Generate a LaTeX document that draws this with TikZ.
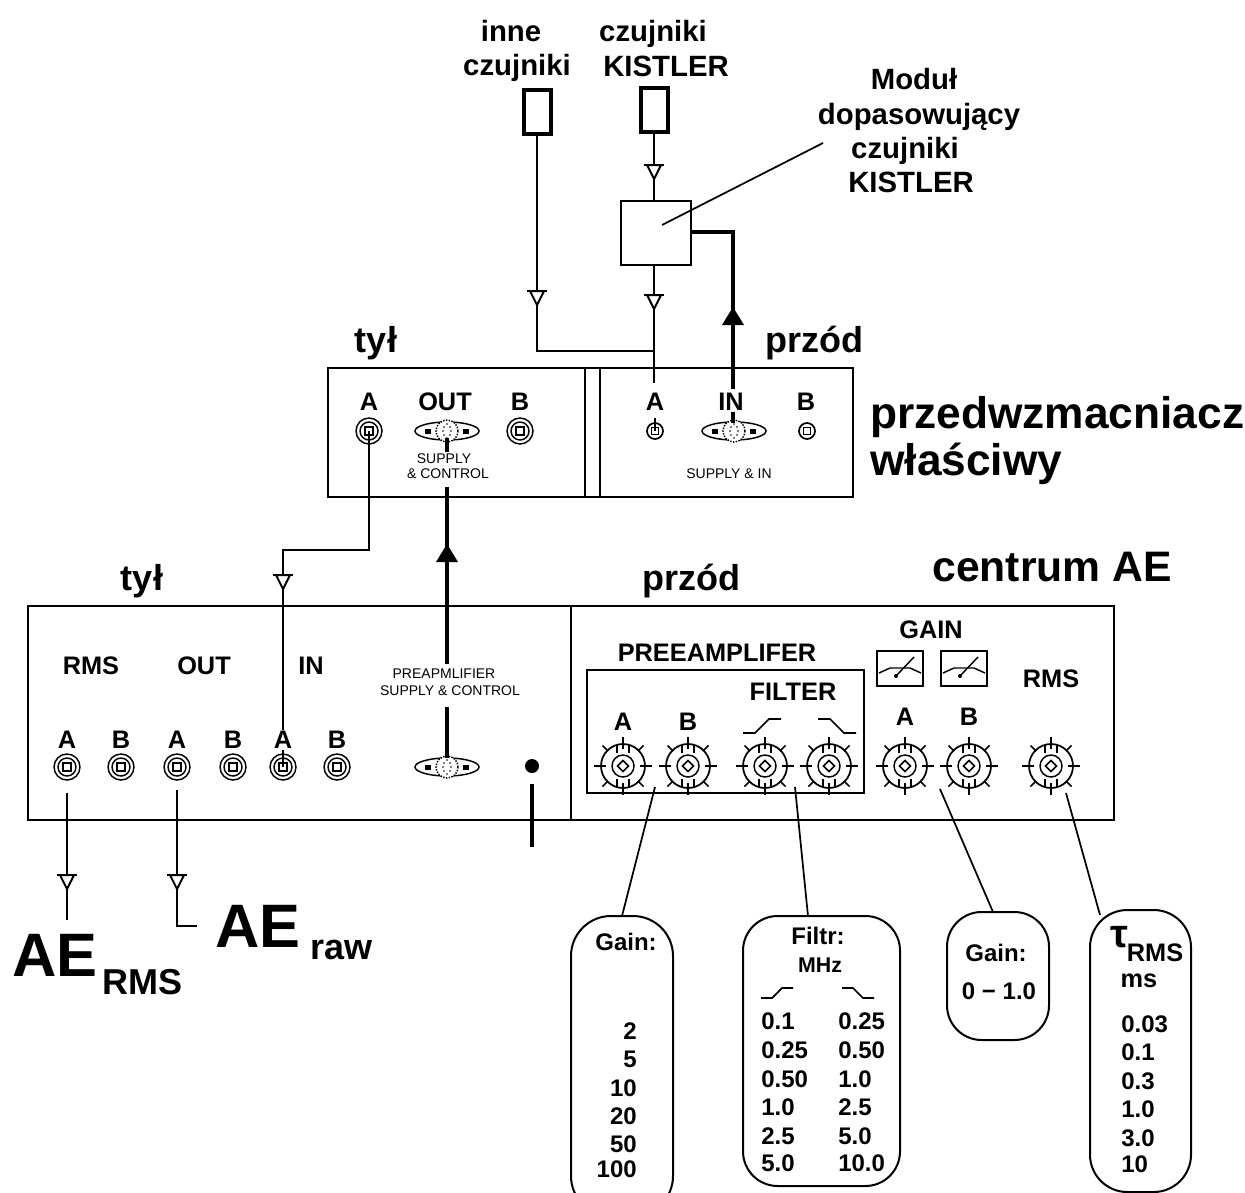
\documentclass[tikz,border=0pt]{standalone}
\usepackage{fontspec}
\setmainfont{Liberation Sans}
\newcommand\fsb[1]{\fontsize{#1}{#1}\selectfont\bfseries}
\newcommand\fsr[1]{\fontsize{#1}{#1}\selectfont}
\tikzset{
  wire/.style={line width=1.5pt},
  hwire/.style={line width=3.2pt},
  thin wire/.style={line width=1.3pt},
  frame/.style={draw,line width=1.5pt,inner sep=0pt,outer sep=0pt},
  lab/.style={inner sep=0pt,font=\fsb{19}},
  lbl/.style={inner sep=0pt,anchor=base,font=\fsb{22}},
  side/.style={inner sep=0pt,anchor=base,font=\fsb{27}},
  huge lab/.style={inner sep=0pt,anchor=base west,font=\fsb{33.2}},
  big/.style={inner sep=0pt,font=\fsb{46}},
  sub/.style={inner sep=0pt,font=\fsb{27}},
  small/.style={inner sep=0pt,font=\fsr{10.5}},
  val/.style={inner sep=0pt,font=\fsb{18}},
  balloon/.style={draw,line width=1.5pt,inner sep=0pt,outer sep=0pt},
  opentri/.pic={
    \draw[line width=1.5pt,fill=white] (-7,0) -- (0,14) -- (7,0) -- cycle;
    \draw[line width=1.8pt] (-10,0) -- (10,0);
  },
  filltri/.pic={\fill (0,-9) -- (11,9) -- (-11,9) -- cycle;},
  jackbig/.pic={
    \draw[line width=1.1pt,fill=white] (0,0) circle (13);
    \draw[line width=1.1pt] (0,0) circle (9);
    \draw[line width=1.5pt] (-4,-4) rectangle (4,4);
  },
  jacksmall/.pic={
    \draw[line width=1.3pt,fill=white] (0,0) circle (8);
    \draw[line width=1.3pt] (-3.5,-3.5) rectangle (3.5,3.5);
  },
  din/.pic={
    \draw[line width=1.1pt,fill=white] (0,0) ellipse (32 and 9);
    \draw[line width=1.1pt,fill=white,densely dotted] (0,0) circle (11);
    \fill (-22,-2.5) rectangle (-16,2.5);
    \fill (16,-2.5) rectangle (22,2.5);
    \foreach \p in {(-3,-4),(3,-4),(-4,0),(4,0),(-3,4),(3,4),(0,-7),(0,7)} {\fill \p circle (.9);}
  },
  knob/.pic={
    \draw[line width=1.3pt] (0,0) circle (22);
    \draw[line width=1.1pt] (0,0) circle (11);
    \draw[line width=1.1pt] (-5.5,0) -- (0,-5.5) -- (5.5,0) -- (0,5.5) -- cycle;
    \foreach \a in {0,90,180,270} {\draw[line width=1.3pt] (\a:17) -- (\a:29);}
    \foreach \a in {45,135,225,315} {\draw[line width=1.1pt] (\a:21) -- (\a:29);}
    \draw[line width=1.1pt] (-6,-21) -- (-6,-13) (6,-21) -- (6,-13) (-6,21) -- (-6,13) (6,21) -- (6,13);
  },
  riselarge/.pic={\draw[line width=1.3pt] (0,0) -- (12,0) -- (26,-14) -- (38,-14);},
  risesmall/.pic={\draw[line width=1.3pt] (0,0) -- (11,0) -- (21,-10) -- (32,-10);},
}
\begin{document}
\begin{tikzpicture}[x=0.75pt,y=-0.75pt]
\useasboundingbox (0,0) rectangle (1245,1192);
\clip (0,0) rectangle (1245,1192);
\fill[white] (0,0) rectangle (1245,1192);

% --- frames
\node[frame,minimum width=525*.75pt,minimum height=129*.75pt] (pre) at (590.5,432.5) {};
\node[frame,minimum width=1086*.75pt,minimum height=214*.75pt] (ctr) at (571,713) {};
\node[frame,minimum width=277*.75pt,minimum height=123*.75pt] (pbox) at (725.5,731.5) {};
\coordinate (d1) at (585,368); \coordinate (d2) at (600,368); \coordinate (d3) at (571,606);
\draw[line width=1.5pt] (d1) -- (d1 |- pre.south);
\draw[line width=1.5pt] (d2) -- (d2 |- pre.south);
\draw[line width=1.5pt] (d3) -- (d3 |- ctr.south);

% --- sensors and module
\node[frame,line width=3pt,minimum width=27*.75pt,minimum height=44*.75pt] (s1) at (537,111.5) {};
\node[frame,line width=3pt,minimum width=27*.75pt,minimum height=44*.75pt] (s2) at (654,110) {};
\node[frame,minimum width=70*.75pt,minimum height=64*.75pt] (mod) at (656,233) {};

% --- top labels
\node[lbl] (t1) at (511,41) {inne};
\node[lbl] (t2) at (517,75) {czujniki};
\node[lbl] (t3) at (653,41) {czujniki};
\node[lbl] (t4) at (666,76) {KISTLER};
\node[lbl] (t5) at (914,89) {Moduł};
\node[lbl] (t6) at (919,124) {dopasowujący};
\node[lbl] (t7) at (905,158) {czujniki};
\node[lbl] (t8) at (911,192) {KISTLER};
\node[side] (t9) at (376,352) {tył};
\node[side] (t10) at (814,352) {przód};
\node[huge lab] (t11) at (870,428) {przedwzmacniacz};
\node[huge lab] (t12) at (870,475) {właściwy};
\node[side] (t13) at (142,590) {tył};
\node[side] (t14) at (691,590) {przód};
\node[inner sep=0pt,anchor=base,font=\fsb{32}] (t15) at (1052,581) {centrum AE};

% --- preamp panel
\node[lab] (pa) at (369,402) {A};
\node[lab] (po) at (445,402) {OUT};
\node[lab] (pb) at (520,402) {B};
\node[lab] (fa) at (655,402) {A};
\node[lab] (fi) at (731,402) {IN};
\node[lab] (fb) at (806,402) {B};
\pic at (369,431) {jackbig};
\pic at (447,431) {din};
\pic at (520,431) {jackbig};
\pic at (655,431) {jacksmall};
\pic at (734,431) {din};
\pic at (807,431) {jacksmall};
\coordinate (jpa) at (369,431);
\coordinate (jfa) at (655,431);
\node[small] (sc1) at (444,459) {SUPPLY};
\node[small] (sc2) at (448,474) {\& CONTROL};
\node[small] (si) at (729,474) {SUPPLY \& IN};

% --- rear panel
\node[lab] (rms) at (91,666) {RMS};
\node[lab] (out) at (204,666) {OUT};
\node[lab] (in) at (311,666) {IN};
\foreach \n/\x/\l in {ra/67/A,rb/121/B,oa/177/A,ob/233/B,ia/283/A,ib/337/B} {
  \node[lab] (\n) at (\x,740) {\l};
  \pic at (\x,767) {jackbig};
  \coordinate (j\n) at (\x,767);
}
\pic at (447,767) {din};
\node[small] (pc1) at (444,674) {PREAPMLIFIER};
\node[small] (pc2) at (450,691) {SUPPLY \& CONTROL};
\node[circle,fill,inner sep=0pt,minimum size=14*.75pt] (dot) at (532,766) {};

% --- front panel
\node[lab] (pr) at (717,653) {PREEAMPLIFER};
\node[lab] (fl) at (793,692) {FILTER};
\node[lab] (ga) at (931,630) {GAIN};
\node[lab] (rm) at (1051,679) {RMS};
\foreach \n/\x/\l in {ka/623/A,kb/688/B,kc/905/A,kd/969/B} {
  \node[lab] (\n) at (\x,\ifnum\x<800 722\else 717\fi) {\l};
}
\foreach \x in {623,688,765,829,905,969,1051} {\pic at (\x,766) {knob};}
\pic at (743,733) {riselarge};
\pic[xscale=-1] at (856,733) {riselarge};
\node[frame,minimum width=46*.75pt,minimum height=35*.75pt] (g1) at (900,668.5) {};
\node[frame,minimum width=46*.75pt,minimum height=35*.75pt] (g2) at (964,668.5) {};
\foreach \c in {900,964} {
  \draw[line width=1.1pt] (\c-21,673) -- (\c-10,668) -- (\c,668) -- (\c+10,668) -- (\c+21,673);
  \draw[line width=1.1pt] (\c-4,676) -- (\c+14,657);
  \fill (\c-4,676) circle (2);
}

% --- balloons
\node[balloon,rounded corners=30pt,minimum width=102*.75pt,minimum height=300*.75pt] (b1) at (622,1066) {};
\node[balloon,rounded corners=26pt,minimum width=157*.75pt,minimum height=270*.75pt] (b2) at (821.5,1051) {};
\node[balloon,rounded corners=26pt,minimum width=102*.75pt,minimum height=128*.75pt] (b3) at (998,976) {};
\node[balloon,rounded corners=28pt,minimum width=101*.75pt,minimum height=282*.75pt] (b4) at (1140.5,1051) {};

\node[val] (v0) at (626,942) {Gain:};
\foreach \n/\t/\y in {v1/2/1031,v2/5/1059,v3/10/1088,v4/20/1116,v5/50/1144,v6/100/1169} {
  \node[val,anchor=east] (\n) at (637,\y) {\t};
}
\node[val] (f0) at (818,936) {Filtr:};
\node[inner sep=0pt,font=\fsb{16}] (f1) at (820,965) {MHz};
\pic at (761,998) {risesmall};
\pic[xscale=-1] at (874,998) {risesmall};
\foreach \n/\a/\b/\y in {c1/0.1/0.25/1021,c2/0.25/0.50/1050,c3/0.50/1.0/1079,c4/1.0/2.5/1107,c5/2.5/5.0/1136,c6/5.0/10.0/1163} {
  \node[val,anchor=west] (\n a) at (761,\y) {\a};
  \node[val,anchor=west] (\n b) at (838,\y) {\b};
}
\node[val] (g0) at (996,953) {Gain:};
\node[val] (g3) at (999,991) {0 − 1.0};
\node[inner sep=0pt,font=\fsb{30}] (tau) at (1119,937) {τ};
\node[inner sep=0pt,font=\fsb{19}] (trms) at (1155,953) {RMS};
\node[inner sep=0pt,font=\fsb{19}] (tms) at (1139,981) {ms};
\foreach \n/\t/\y in {r1/0.03/1024,r2/0.1/1052,r3/0.3/1081,r4/1.0/1109,r5/3.0/1138,r6/10/1164} {
  \node[val,anchor=west] (\n) at (1121,\y) {\t};
}

% --- AE outputs
\node[big,anchor=base west] (ae1) at (12,976) {AE};
\node[sub,anchor=base west] (ae1s) at (102,994) {RMS};
\node[big,anchor=base west] (ae2) at (215,947) {AE};
\node[sub,anchor=base west] (ae2s) at (310,959) {raw};

% --- connectors
\coordinate (w1) at (537,351);
\draw[wire] (s1.south) -- (w1) -- (w1 -| jfa);
\pic at (537,291) {opentri};
\draw[wire] (s2.south) -- (s2.south |- mod.north);
\pic at (654,165) {opentri};
\coordinate (fatop) at (654,383);
\draw[wire] (s2.south |- mod.south) -- (fatop);
\pic at (654,295) {opentri};
\coordinate (inin) at (733,389);
\draw[hwire] (mod.east |- 0,232) -- (733,232) -- (inin);
\pic at (733,316) {filltri};
\coordinate (instub) at (733,423);
\draw[hwire] (733,412) -- (instub);
\draw[wire] (jfa) ++(0,-13) -- (jfa);

\coordinate (b1a) at (369,550); \coordinate (b1b) at (283,550);
\draw[wire] (jpa) -- (b1a) -- (b1b) -- (283,730);
\pic at (283,575) {opentri};
\draw[wire] (283,750) -- (jia);

\coordinate (cu1) at (447,487); \coordinate (cu2) at (447,664);
\draw[hwire] (cu1) -- (cu1 |- pre.south);
\draw[hwire] (pre.south -| cu1) -- (cu2);
\pic at (447,553) {filltri};
\draw[hwire] (447,707) -- (447,758);
\draw[hwire] (447,438) -- (447,452);

\draw[wire] (67,793) -- (67,920);
\pic at (67,875) {opentri};
\coordinate (rawend) at (197,926);
\draw[wire] (177,790) -- (177,926) -- (rawend);
\pic at (177,875) {opentri};
\draw[line width=2.6pt] (532,784) -- (532,847);

\draw[thin wire] (823,143) -- (662,225);
\coordinate (l1) at (655,787); \coordinate (l1e) at (622,916);
\coordinate (l2) at (795,787); \coordinate (l2e) at (808,916);
\coordinate (l3) at (940,789); \coordinate (l3e) at (993,912);
\coordinate (l4) at (1066,793); \coordinate (l4e) at (1100,915);
\draw[thin wire] (l1) -- (l1e);
\draw[thin wire] (l2) -- (l2e);
\draw[thin wire] (l3) -- (l3e);
\draw[thin wire] (l4) -- (l4e);
\end{tikzpicture}
\end{document}
